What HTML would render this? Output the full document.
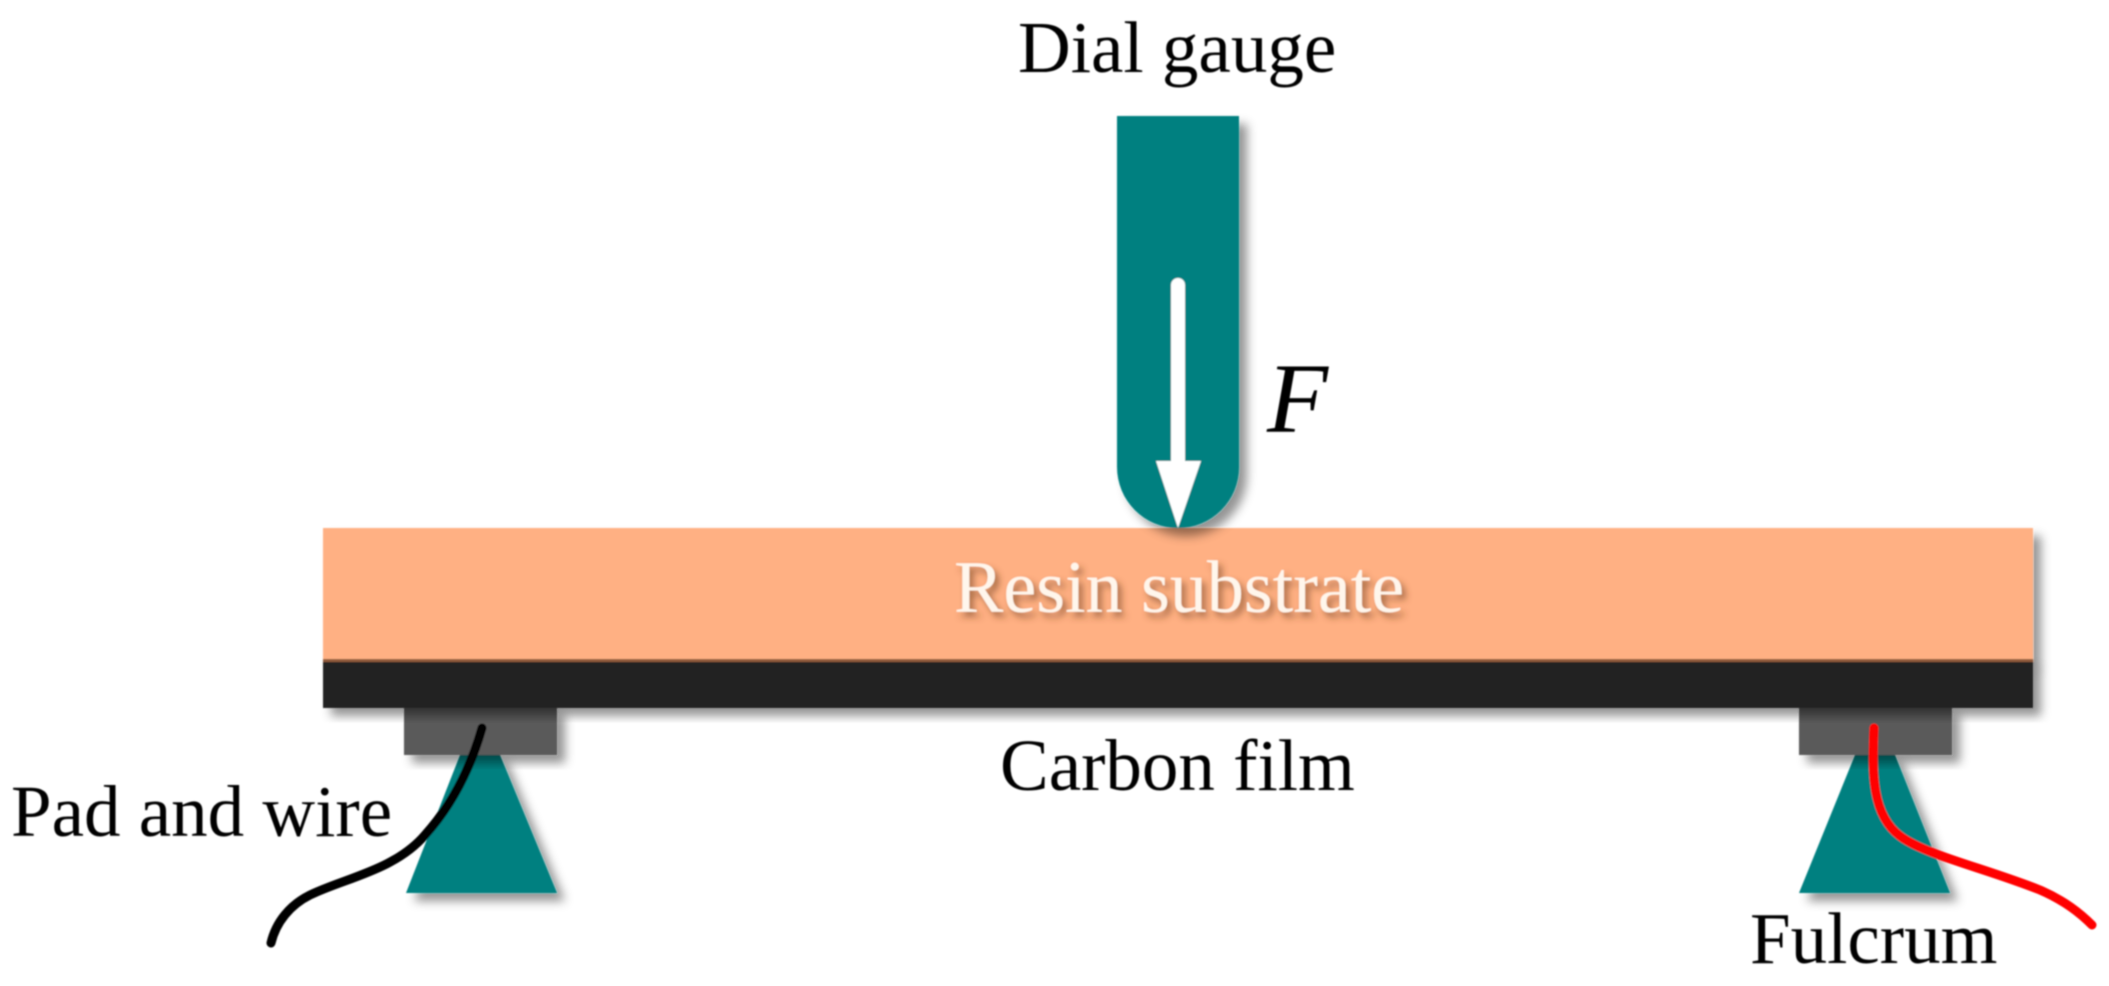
<!DOCTYPE html>
<html>
<head>
<meta charset="utf-8">
<style>
html,body{margin:0;padding:0;background:#fff;width:2109px;height:986px;overflow:hidden}
svg{display:block}
text{font-family:"Liberation Serif",serif;fill:#000}
</style>
</head>
<body>
<svg width="2109" height="986" viewBox="0 0 2109 986" xmlns="http://www.w3.org/2000/svg">
<defs>
<filter id="s" x="-20%" y="-20%" width="150%" height="150%">
<feDropShadow dx="8" dy="8" stdDeviation="5" flood-color="#000" flood-opacity="0.42"/>
</filter>
<filter id="ts" x="-10%" y="-30%" width="120%" height="170%">
<feDropShadow dx="4" dy="5" stdDeviation="3.5" flood-color="#6b3a1e" flood-opacity="0.6"/>
</filter>
<filter id="b" x="-5%" y="-5%" width="110%" height="110%">
<feGaussianBlur stdDeviation="0.7"/>
</filter>
</defs>
<g filter="url(#b)">
<!-- supports -->
<path d="M460 755H500L557 893H406Z" fill="#008080" filter="url(#s)"/>
<path d="M1855 755H1895L1950 893H1799Z" fill="#008080" filter="url(#s)"/>
<!-- pads -->
<rect x="404" y="707" width="153" height="48" fill="#5a5a5a" filter="url(#s)"/>
<rect x="1799" y="707" width="153" height="48" fill="#5a5a5a" filter="url(#s)"/>
<!-- beam -->
<rect x="323" y="528" width="1710" height="134" fill="#ffb083" filter="url(#s)"/>
<rect x="323" y="660" width="1710" height="48" fill="#222222" filter="url(#s)"/>
<rect x="323" y="528" width="1710" height="133" fill="#ffb083"/>
<rect x="323" y="659" width="1710" height="3" fill="#8f5a3a"/>
<!-- gauge -->
<path d="M1117 116H1239V467A61 61 0 0 1 1117 467Z" fill="#008080" filter="url(#s)"/>
<!-- arrow -->
<path d="M1171 285A7 7 0 0 1 1185 285V461H1201L1178 528L1156 461H1171Z" fill="#fff"/>
<!-- wires -->
<path d="M482 728C470 770 452 805 425 835C395 870 345 878 310 895C290 905 276 922 271 943" fill="none" stroke="#000" stroke-width="9" stroke-linecap="round"/>
<path d="M1874 728C1872 775 1872 815 1900 836C1925 855 1985 868 2040 890C2065 901 2080 913 2092 925" fill="none" stroke="#ff0000" stroke-width="9" stroke-linecap="round"/>
<!-- labels -->
<text x="1018" y="72" font-size="73">Dial gauge</text>
<text x="1267" y="432" font-size="100" font-style="italic">F</text>
<text x="954" y="612" font-size="74" style="fill:#fff6ec" filter="url(#ts)">Resin substrate</text>
<text x="1000" y="790" font-size="73">Carbon film</text>
<text x="11" y="836" font-size="73">Pad and wire</text>
<text x="1750" y="963" font-size="73">Fulcrum</text>
</g>
</svg>
</body>
</html>
